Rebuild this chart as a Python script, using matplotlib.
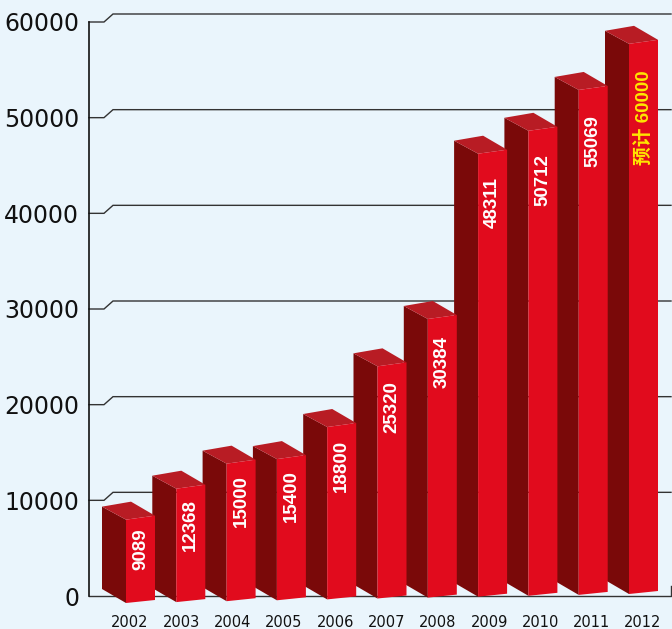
import matplotlib.pyplot as plt
from matplotlib.patches import Polygon

years = ['2002', '2003', '2004', '2005', '2006', '2007', '2008', '2009', '2010', '2011', '2012']
values = [9089, 12368, 15000, 15400, 18800, 25320, 30384, 48311, 50712, 55069, 60000]
value_labels = ['9089', '12368', '15000', '15400', '18800', '25320', '30384',
                '48311', '50712', '55069', '预计 60000']
yticks = [0, 10000, 20000, 30000, 40000, 50000, 60000]

bg = '#eaf5fc'
front_c = '#e10b1d'
side_c = '#7a0909'
top_c = '#b81c24'

fig = plt.figure(figsize=(6.72, 6.29), dpi=100, facecolor=bg)
ax = fig.add_axes([0, 0, 1, 1])
ax.set_facecolor(bg)

# one data unit on x = one year slot (51.3 px), y in values (574 px per 60000)
px_x = 1 / 51.3
px_y = 60000 / 574
ax.set_xlim(-130 * px_x, 542 * px_x)
ax.set_ylim(-33 * px_y, 596 * px_y)
ax.axis('off')

x0 = -41 * px_x   # y axis line
x1 = -26 * px_x
x2 = -17 * px_x
xr = 541 * px_x

# gridlines with the little perspective kink
for t in yticks[1:]:
    ax.plot([x0, x1, x2, xr], [t, t, t + 8 * px_y, t + 8 * px_y],
            color='#333333', lw=1, zorder=1, solid_joinstyle='miter')
ax.plot([x0, xr, xr], [0, 0, 10 * px_y], color='#333333', lw=1, zorder=1)
ax.plot([x0, x0], [0, 60000], color='#111111', lw=1.2, zorder=1)

for t in yticks:
    ax.text(-51 * px_x, t - 2.5 * px_y, str(t), ha='right', va='center',
            fontsize=17, color='#111111')

# 3d-ish bars, drawn right to left so the left bar sits in front
scale = 0.9585       # bars are drawn a bit shorter than the axis scale
step = 50.3 / 51.3   # bars are spaced a bit tighter than the year labels
for i in reversed(range(len(values))):
    v = values[i]
    flx = -4 * px_x + i * step
    frx = flx + 29 * px_x
    blx = flx - 24 * px_x
    brx = flx + 5 * px_x
    base = -(7 - 0.9 * i) * px_y
    fl_top = base + v * scale
    fr_top = fl_top + 4 * px_y
    fr_bot = base + 3 * px_y
    bl_top = fl_top + 13 * px_y
    bl_bot = base + 14 * px_y
    br_top = bl_top + 5 * px_y
    z = 10 + (len(values) - i)
    ax.add_patch(Polygon([(blx, bl_top), (flx, fl_top), (flx, base), (blx, bl_bot)],
                         closed=True, fc=side_c, ec='none', zorder=z))
    ax.add_patch(Polygon([(blx, bl_top), (brx, br_top), (frx, fr_top), (flx, fl_top)],
                         closed=True, fc=top_c, ec='none', zorder=z))
    ax.add_patch(Polygon([(flx, fl_top), (frx, fr_top), (frx, fr_bot), (flx, base)],
                         closed=True, fc=front_c, ec='none', zorder=z))

    lab = value_labels[i]
    is_est = not lab.isdigit()
    gap = (6 + 0.00035 * v) * px_y
    ax.text((flx + frx) / 2, fl_top - gap, lab, rotation=90, ha='center', va='top',
            fontsize=13.5, fontweight='bold',
            color='#ffe600' if is_est else 'white',
            family=['Liberation Sans', 'Noto Sans CJK SC'], zorder=z + 0.5)

    ax.text(i, -26.7 * px_y, years[i], ha='center', va='center',
            fontsize=10.5, color='#111111')

fig.savefig('out.png', dpi=100, facecolor=bg)
